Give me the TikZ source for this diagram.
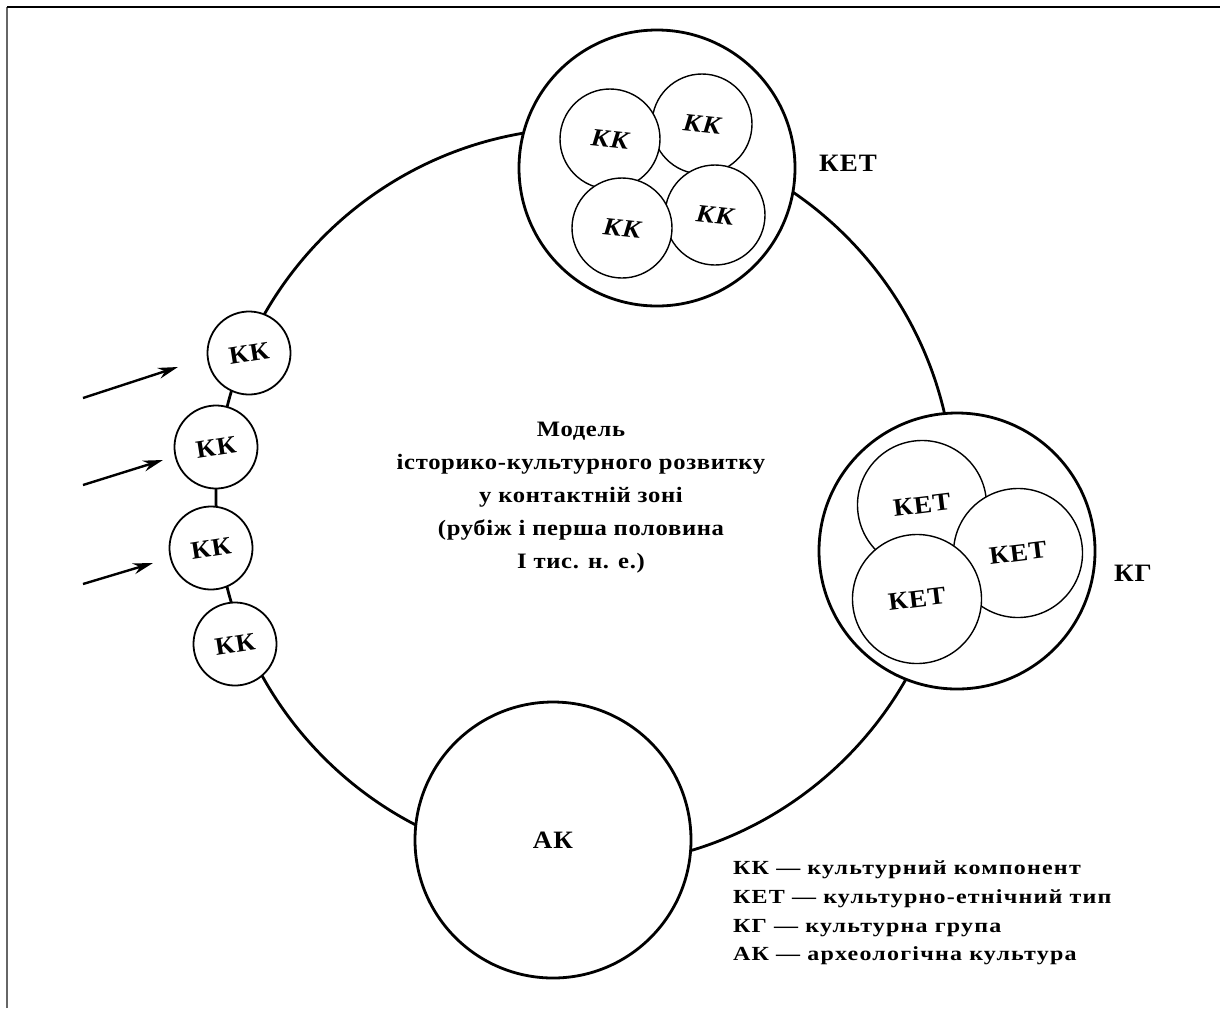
\documentclass[tikz,border=0pt]{standalone}
\usepackage{fontspec}
\setmainfont{Liberation Serif}
\newfontfamily\widefont[FakeStretch=1.12,LetterSpace=3]{Liberation Serif}
\newfontfamily\widerfont[FakeStretch=1.2,LetterSpace=6]{Liberation Serif}
\newfontfamily\kkfont[FakeStretch=1.08,LetterSpace=4]{Liberation Serif}
\usetikzlibrary{arrows.meta,positioning}

\begin{document}
\begin{tikzpicture}[x=0.5pt,y=-0.5pt,
		every node/.style={font=\kkfont\bfseries\fontsize{12.5}{15}\selectfont},
		bubble/.style={circle,draw,line width=1.4pt,fill=white,minimum size=138pt,inner sep=0pt},
		kkring/.style={circle,draw,line width=0.9pt,fill=white,minimum size=41.5pt,inner sep=0pt,rotate=9},
		kkin/.style={circle,draw,line width=0.7pt,fill=white,minimum size=50pt,inner sep=0pt,
			font=\kkfont\bfseries\itshape\fontsize{12.5}{15}\selectfont,rotate=-6},
		ketin/.style={circle,draw,line width=0.7pt,fill=white,minimum size=64.5pt,inner sep=0pt,rotate=7},
		>={Stealth[length=10pt,width=5.5pt]}]
		\useasboundingbox (0,0) rectangle (1220,1008);

		% frame (only top and left)
		\draw[line width=1pt,black!60] (7,1008) -- (7,7);
		\draw[line width=1pt] (7,7) -- (1220,7);

		% the ring
		\node[circle,draw,line width=1.4pt,minimum size=369pt,inner sep=0pt] (ring) at (585,497) {};

		% chain of cultural components
		\node[kkring] (kk1) at (249,353) {КК};
		\node[kkring] (kk2) at (216,447) {КК};
		\node[kkring] (kk3) at (211,548) {КК};
		\node[kkring] (kk4) at (235,644) {КК};

		% incoming influences
		\coordinate (s1) at (83,398);
		\coordinate (t1) at (178,367);
		\coordinate (s2) at (83,485);
		\coordinate (t2) at (163,460);
		\coordinate (s3) at (83,584);
		\coordinate (t3) at (153,563);
		\foreach \i in {1,2,3}
			\draw[->,line width=1.2pt] (s\i) -- (t\i);

		% KET
		\node[bubble] (ket) at (657,168) {};
		\node[kkin] (c2) at (702,124) {КК};
		\node[kkin] (c4) at (715,215) {КК};
		\node[kkin] (c1) at (610,139) {КК};
		\node[kkin] (c3) at (622,228) {КК};
		\node (ketlab) at (848,163) {КЕТ};

		% KG
		\node[bubble] (kg) at (957,551) {};
		\node[ketin] (k1) at (922,505) {КЕТ};
		\node[ketin] (k2) at (1018,553) {КЕТ};
		\node[ketin] (k3) at (917,599) {КЕТ};
		\node (kglab) at (1133,573) {КГ};

		% AK
		\node[bubble] (ak) at (553,840) {АК};

		\node[align=center,font=\widefont\bfseries\fontsize{11}{16.5}\selectfont] (title) at (581,498)
			{Модель\\історико-культурного розвитку\\у контактній зоні\\(рубіж і перша половина\\І тис. н. е.)};

		\node[align=left,anchor=west,font=\widerfont\bfseries\fontsize{10}{14.3}\selectfont] (legend) at (726,913)
			{КК — культурний компонент\\КЕТ — культурно-етнічний тип\\КГ — культурна група\\АК — археологічна культура};
	\end{tikzpicture}
\end{document}
